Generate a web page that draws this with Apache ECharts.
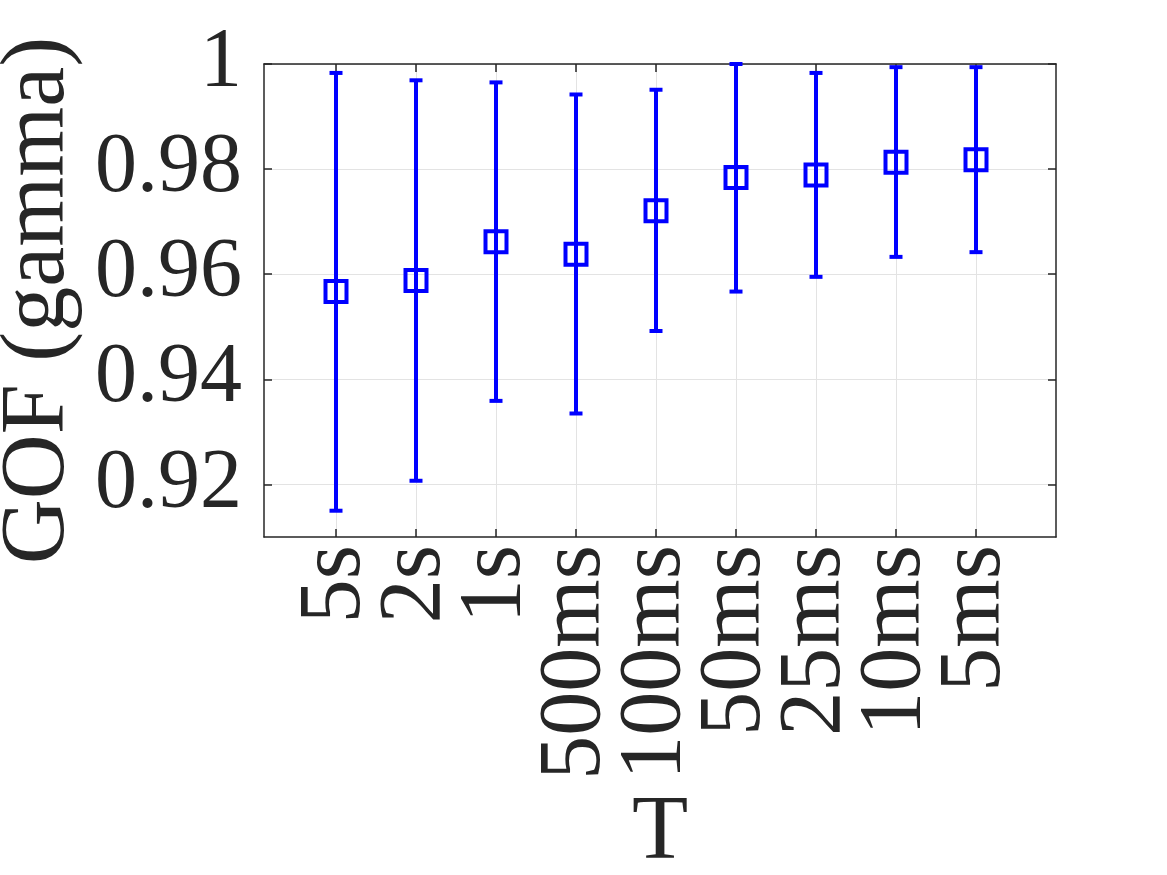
<!DOCTYPE html>
<html>
<head>
<meta charset="utf-8">
<script src="https://cdn.jsdelivr.net/npm/echarts@6/dist/echarts.min.js"></script>
<style>
html,body{margin:0;padding:0;background:#fff;}
#chart{width:1167px;height:875px;}
</style>
</head>
<body>
<div id="chart"></div>
<script>
const categories = ['5s','2s','1s','500ms','100ms','50ms','25ms','10ms','5ms'];
const meanValues = [0.9567, 0.9588, 0.9662, 0.9638, 0.9721, 0.9784, 0.9789, 0.9813, 0.9818];
const lowValues  = [0.9150, 0.9207, 0.9359, 0.9335, 0.9492, 0.9567, 0.9595, 0.9633, 0.9642];
const highValues = [0.9983, 0.9969, 0.9965, 0.9942, 0.9951, 1.0000, 0.9983, 0.9994, 0.9994];
const yTicks = [0.92, 0.94, 0.96, 0.98, 1];
const xName = 'T';
const yName = 'GOF (gamma)';

const X_MIN = 0.1, X_MAX = 10;
const positions = categories.map((c, i) => i + 1);
// edge entries carry empty labels so that every category label is an inner label
const labelValues = [X_MIN].concat(positions, [X_MAX]);
const FONT = '"Liberation Serif", "Times New Roman", serif';
const AX = '#262626';
const GRID = '#e3e3e3';
const BLUE = '#0000ff';

const chart = echarts.init(document.getElementById('chart'), null, {renderer: 'canvas'});

const errData = positions.map((p, i) => [p, lowValues[i], highValues[i]]);
const meanData = positions.map((p, i) => [p, meanValues[i]]);

function xLabel(v) {
  const k = Math.round(v);
  if (Math.abs(v - k) > 1e-6) return '';
  return categories[k - 1] || '';
}

const option = {
  backgroundColor: '#ffffff',
  animation: false,
  textStyle: {fontFamily: FONT},
  grid: {left: 264, top: 64, right: 111, bottom: 338, containLabel: false, outerBoundsMode: 'none'},
  xAxis: [{
    type: 'value', min: X_MIN, max: X_MAX, position: 'bottom',
    name: xName, nameLocation: 'middle', nameGap: 231,
    nameTextStyle: {fontFamily: FONT, fontSize: 92, color: AX},
    axisLine: {show: true, lineStyle: {color: AX, width: 1.5}},
    axisTick: {show: true, inside: true, length: 8, customValues: positions, lineStyle: {color: AX, width: 1.5}},
    axisLabel: {show: true, customValues: labelValues, rotate: 90, margin: 8,
      hideOverlap: false,
      fontFamily: FONT, fontSize: 88, color: AX,
      formatter: xLabel},
    splitLine: {show: true, lineStyle: {color: GRID, width: 1}}
  }, {
    type: 'value', min: X_MIN, max: X_MAX, position: 'top',
    axisLine: {show: true, lineStyle: {color: AX, width: 1.5}},
    axisTick: {show: true, inside: true, length: 8, customValues: positions, lineStyle: {color: AX, width: 1.5}},
    axisLabel: {show: false},
    splitLine: {show: false}
  }],
  yAxis: [{
    type: 'value', min: 0.91, max: 1, position: 'left',
    name: yName, nameLocation: 'middle', nameGap: 166,
    nameTextStyle: {fontFamily: FONT, fontSize: 90, color: AX},
    axisLine: {show: true, lineStyle: {color: AX, width: 1.5}},
    axisTick: {show: true, inside: true, length: 8, customValues: yTicks, lineStyle: {color: AX, width: 1.5}},
    axisLabel: {show: true, customValues: yTicks, margin: 22,
      showMinLabel: true, showMaxLabel: true,
      fontFamily: FONT, fontSize: 84, color: AX,
      formatter: v => (Math.abs(v - 1) < 1e-9 ? '1' : v.toFixed(2))},
    splitLine: {show: true, lineStyle: {color: GRID, width: 1}}
  }, {
    type: 'value', min: 0.91, max: 1, position: 'right',
    axisLine: {show: true, lineStyle: {color: AX, width: 1.5}},
    axisTick: {show: true, inside: true, length: 8, customValues: yTicks, lineStyle: {color: AX, width: 1.5}},
    axisLabel: {show: false},
    splitLine: {show: false}
  }],
  series: [{
    type: 'custom',
    xAxisIndex: 0, yAxisIndex: 0,
    data: errData,
    renderItem: function (params, api) {
      const x = api.value(0);
      const lo = api.coord([x, api.value(1)]);
      const hi = api.coord([x, api.value(2)]);
      const hw = 6.5;
      const style = {stroke: BLUE, lineWidth: 4, fill: null};
      return {
        type: 'group',
        children: [
          {type: 'line', shape: {x1: lo[0], y1: lo[1], x2: hi[0], y2: hi[1]}, style: style},
          {type: 'line', shape: {x1: lo[0] - hw, y1: lo[1], x2: lo[0] + hw, y2: lo[1]}, style: style},
          {type: 'line', shape: {x1: hi[0] - hw, y1: hi[1], x2: hi[0] + hw, y2: hi[1]}, style: style}
        ]
      };
    },
    z: 2
  }, {
    type: 'scatter',
    xAxisIndex: 0, yAxisIndex: 0,
    data: meanData,
    symbol: 'rect',
    symbolSize: 21,
    itemStyle: {color: 'rgba(0,0,0,0)', borderColor: BLUE, borderWidth: 4, opacity: 1},
    emphasis: {disabled: true},
    z: 3
  }]
};
chart.setOption(option);
</script>
</body>
</html>
